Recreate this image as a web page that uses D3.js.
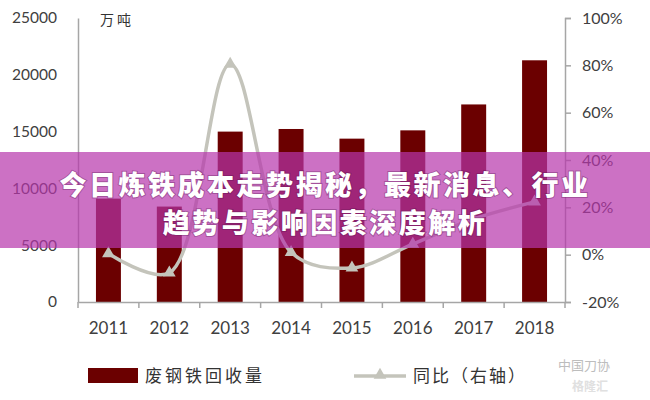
<!DOCTYPE html>
<html><head><meta charset="utf-8">
<script src="https://cdn.jsdelivr.net/npm/d3@7"></script>
<style>
html,body{margin:0;padding:0;background:#fff;}
svg{display:block;}
</style></head>
<body>
<svg id="chart" width="650" height="400"></svg>
<script>
const years = ["2011","2012","2013","2014","2015","2016","2017","2018"];
const recovery = [9100, 8400, 15000, 15230, 14380, 15110, 17391, 21277];
const yoy = [0.5, -7.7, 80.5, 1.0, -5.6, 4.5, 15.1, 22.3];
const leftTicks = [0, 5000, 10000, 15000, 20000, 25000];
const rightTicks = [-20, 0, 20, 40, 60, 80, 100];
const titleLines = ["今日炼铁成本走势揭秘，最新消息、行业", "趋势与影响因素深度解析"];

const svg = d3.select("#chart");
const L = 78, R = 565, T = 18, B = 302;
const numFont = "Lato, 'Open Sans', sans-serif";
const cjk = "'Noto Sans CJK SC', sans-serif";
const axisCol = "#a6a6a6";

const x = d3.scaleBand().domain(years).range([L, R]).paddingInner(0.59).paddingOuter(0.295);
const yL = d3.scaleLinear().domain([0, 25000]).range([B, T]);
const yR = d3.scaleLinear().domain([-20, 100]).range([B, T]);

// bars
svg.append("g").selectAll("rect").data(years).join("rect")
  .attr("x", d => x(d)).attr("width", x.bandwidth())
  .attr("y", (d,i) => yL(recovery[i])).attr("height", (d,i) => B - yL(recovery[i]))
  .attr("fill", "#6b0000");

// left axis
const gl = svg.append("g").attr("transform", `translate(${L},0)`)
  .call(d3.axisLeft(yL).tickValues(leftTicks).tickSize(0).tickPadding(21).tickFormat(d3.format("d")));
gl.select(".domain").attr("stroke", axisCol).attr("stroke-width", 1.5);
gl.selectAll("text").attr("font-family", numFont).attr("font-size", 15.5).attr("fill", "#404040");

// right axis
const gr = svg.append("g").attr("transform", `translate(${R},0)`)
  .call(d3.axisRight(yR).tickValues(rightTicks).tickSize(6).tickPadding(11).tickFormat(d => d + "%"));
gr.select(".domain").attr("stroke", axisCol).attr("stroke-width", 1.5);
gr.selectAll("line").attr("stroke", axisCol).attr("stroke-width", 1.5);
gr.selectAll("text").attr("font-family", numFont).attr("font-size", 16).attr("fill", "#404040");

// bottom axis
const gb = svg.append("g").attr("transform", `translate(0,${B})`)
  .call(d3.axisBottom(x).tickSize(0).tickPadding(20));
gb.select(".domain").attr("stroke", axisCol).attr("stroke-width", 1.5);
gb.selectAll("text").attr("font-family", numFont).attr("font-size", 17).attr("fill", "#404040");
const step = x.step();
const bounds = d3.range(years.length + 1).map(i => L + i * step);
gb.selectAll(".bt").data(bounds).join("line").attr("class", "bt")
  .attr("x1", d => d).attr("x2", d => d).attr("y1", 0).attr("y2", 6)
  .attr("stroke", axisCol).attr("stroke-width", 1.5);

// unit
svg.append("text").attr("x", 100).attr("y", 25).text("万吨")
  .attr("font-family", cjk).attr("font-size", 14).attr("fill", "#333").attr("letter-spacing", 3);

// line
const cx = d => x(d) + x.bandwidth() / 2;
const line = d3.line().x(d => cx(d)).y((d,i) => yR(yoy[i])).curve(d3.curveCatmullRom.alpha(0.5));
svg.append("path").datum(years).attr("d", line).attr("fill", "none")
  .attr("stroke", "#c4c4bb").attr("stroke-width", 3.5);
const tri = d3.symbol().type(d3.symbolTriangle).size(70);
svg.append("g").selectAll("path").data(years).join("path")
  .attr("d", tri).attr("transform", (d,i) => `translate(${cx(d)},${yR(yoy[i])})`)
  .attr("fill", "#c4c4bb");

// legend
svg.append("rect").attr("x", 88).attr("y", 368).attr("width", 50).attr("height", 15).attr("fill", "#6b0000");
svg.append("text").attr("x", 145).attr("y", 382).text("废钢铁回收量")
  .attr("font-family", cjk).attr("font-size", 17).attr("fill", "#333").attr("letter-spacing", 3);
svg.append("line").attr("x1", 354).attr("x2", 406).attr("y1", 376).attr("y2", 376)
  .attr("stroke", "#c4c4bb").attr("stroke-width", 3.5);
svg.append("path").attr("d", tri).attr("transform", "translate(380,375)").attr("fill", "#c4c4bb");
svg.append("text").attr("x", 413).attr("y", 382).text("同比（右轴）")
  .attr("font-family", cjk).attr("font-size", 17).attr("fill", "#333").attr("letter-spacing", 2);

// watermark
svg.append("text").attr("x", 558).attr("y", 370).text("中国刀协")
  .attr("font-family", cjk).attr("font-size", 13).attr("fill", "#bdbdbd");
svg.append("text").attr("x", 572).attr("y", 391).text("格隆汇")
  .attr("font-family", cjk).attr("font-size", 12).attr("font-weight", "bold").attr("fill", "#e0e0e0");

// overlay banner
svg.append("rect").attr("x", 0).attr("y", 152).attr("width", 650).attr("height", 96)
  .attr("fill", "rgb(182,52,171)").attr("fill-opacity", 0.7);
svg.append("g").selectAll("text").data(titleLines).join("text")
  .attr("x", 325).attr("y", (d,i) => 195 + i * 38).attr("text-anchor", "middle")
  .text(d => d).attr("font-family", cjk).attr("font-weight", 900).attr("font-size", 27)
  .attr("fill", "#fff").attr("letter-spacing", 2.5)
  .style("paint-order", "stroke").attr("stroke", "rgba(90,20,80,0.35)").attr("stroke-width", 2);
</script>
</body></html>
